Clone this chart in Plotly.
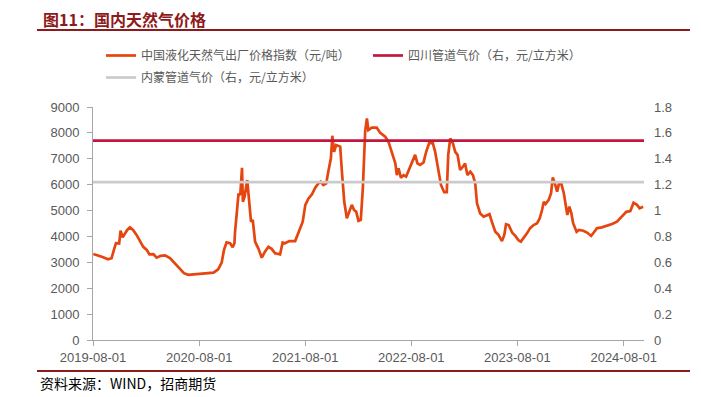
import plotly.graph_objects as go

# ---------------- data ----------------
lng_dates = [
    "2019-08-02", "2019-08-25", "2019-09-05", "2019-09-22", "2019-10-04", "2019-10-12", "2019-10-19",
    "2019-10-30", "2019-11-04", "2019-11-11", "2019-11-19", "2019-11-27", "2019-12-06", "2019-12-17",
    "2019-12-29", "2020-01-10", "2020-01-21", "2020-02-02", "2020-02-11", "2020-02-25", "2020-03-07",
    "2020-03-21", "2020-04-05", "2020-04-22", "2020-05-09", "2020-05-26", "2020-06-09", "2020-06-24",
    "2020-07-23", "2020-08-21", "2020-09-19", "2020-10-05", "2020-10-17", "2020-10-25", "2020-11-03",
    "2020-11-15", "2020-11-24", "2020-11-30", "2020-12-02", "2020-12-08", "2020-12-14", "2020-12-20",
    "2020-12-26", "2020-12-29", "2021-01-04", "2021-01-13", "2021-01-20", "2021-01-26", "2021-02-01",
    "2021-02-09", "2021-02-20", "2021-03-04", "2021-03-15", "2021-03-27", "2021-04-07", "2021-04-19",
    "2021-05-06", "2021-05-15", "2021-05-23", "2021-06-07", "2021-06-27", "2021-07-14", "2021-07-23",
    "2021-08-01", "2021-08-12", "2021-08-24", "2021-09-04", "2021-09-15", "2021-09-23", "2021-10-02",
    "2021-10-12", "2021-10-19", "2021-10-28", "2021-11-02", "2021-11-08", "2021-11-15", "2021-11-29",
    "2021-12-05", "2021-12-13", "2021-12-22", "2021-12-31", "2022-01-08", "2022-01-16", "2022-01-23",
    "2022-01-31", "2022-02-08", "2022-02-15", "2022-02-23", "2022-03-01", "2022-03-06", "2022-03-18",
    "2022-04-04", "2022-04-16", "2022-05-03", "2022-05-14", "2022-05-26", "2022-06-07", "2022-06-12",
    "2022-06-18", "2022-06-26", "2022-07-05", "2022-07-14", "2022-07-26", "2022-08-06", "2022-08-14",
    "2022-08-22", "2022-08-31", "2022-09-12", "2022-09-21", "2022-10-02", "2022-10-14", "2022-10-22",
    "2022-11-02", "2022-11-11", "2022-11-22", "2022-12-01", "2022-12-06", "2022-12-13", "2022-12-22",
    "2022-12-30", "2023-01-07", "2023-01-16", "2023-01-26", "2023-02-02", "2023-02-10", "2023-02-20",
    "2023-03-01", "2023-03-09", "2023-03-15", "2023-03-26", "2023-04-07", "2023-04-18", "2023-04-27",
    "2023-05-05", "2023-05-17", "2023-05-28", "2023-06-09", "2023-06-17", "2023-06-23", "2023-07-02",
    "2023-07-14", "2023-07-25", "2023-08-05", "2023-08-13", "2023-08-22", "2023-09-03", "2023-09-14",
    "2023-09-26", "2023-10-08", "2023-10-17", "2023-10-25", "2023-10-31", "2023-11-06", "2023-11-17",
    "2023-11-25", "2023-12-01", "2023-12-08", "2023-12-16", "2023-12-22", "2023-12-30", "2024-01-08",
    "2024-01-14", "2024-01-20", "2024-01-27", "2024-02-03", "2024-02-09", "2024-02-21", "2024-02-29",
    "2024-03-15", "2024-03-28", "2024-04-11", "2024-04-20", "2024-05-01", "2024-05-18", "2024-06-02",
    "2024-06-22", "2024-07-09", "2024-07-26", "2024-08-10", "2024-08-24", "2024-09-04", "2024-09-16",
    "2024-09-25", "2024-10-07",
]
lng_price = [
    3320, 3250, 3200, 3120, 3160, 3480, 3740,
    3730, 4220, 3970, 4120, 4250, 4350, 4250,
    4060, 3800, 3600, 3480, 3310, 3320, 3180,
    3250, 3270, 3160, 2960, 2730, 2580, 2520,
    2540, 2580, 2600, 2730, 2990, 3480, 3770,
    3740, 3580, 3740, 4180, 4900, 5650, 5600,
    6650, 5340, 5540, 6180, 5340, 4570, 4640,
    3800, 3540, 3180, 3410, 3600, 3520, 3350,
    3310, 3770, 3740, 3820, 3820, 4320, 4570,
    5220, 5470, 5630, 5880, 6050, 6120, 5990,
    6050, 6500, 7020, 7890, 7270, 7530, 7470,
    6500, 5340, 4700, 4960, 5220, 5020, 4960,
    4600, 4640, 5860, 8050, 8560, 8110, 8200,
    8200, 8000, 7850, 7660, 7270, 6820, 6370,
    6630, 6270, 6370, 6310, 6630, 6890, 7150,
    6820, 6760, 6860, 7270, 7630, 7600, 7270,
    6630, 5990, 5710, 5710, 7150, 7790, 7600,
    7270, 7150, 6570, 6700, 6820, 6370, 6500,
    6370, 6050, 5280, 4890, 4760, 4830, 4860,
    4570, 4180, 4060, 3820, 4060, 4470, 4440,
    4150, 4020, 3850, 3800, 3930, 4120, 4320,
    4440, 4510, 4700, 5020, 5340, 5250, 5410,
    5670, 6280, 6050, 5730, 6030, 6050, 5670,
    5150, 4830, 5150, 4890, 4510, 4180, 4250,
    4220, 4150, 4020, 4150, 4320, 4350, 4400,
    4480, 4570, 4790, 4950, 4980, 5300, 5220,
    5090, 5150,
]
sichuan_price = 1.54        # 元/立方米 (right axis)
neimenggu_price = 1.22      # 元/立方米 (right axis)

x_range = ["2019-08-01", "2024-10-10"]
x_tick_vals = ["2019-08-01", "2020-08-01", "2021-08-01", "2022-08-01", "2023-08-01", "2024-08-01"]
left_ticks = [0, 1000, 2000, 3000, 4000, 5000, 6000, 7000, 8000, 9000]
right_ticks = [0, 0.2, 0.4, 0.6, 0.8, 1.0, 1.2, 1.4, 1.6, 1.8]

names = ["中国液化天然气出厂价格指数（元/吨）", "四川管道气价（右，元/立方米）", "内蒙管道气价（右，元/立方米）"]
colors = ["#E5450F", "#C3163F", "#CBCBCB"]

title_text = "图11：国内天然气价格"
source_text = "资料来源：WIND，招商期货"

# ---------------- figure ----------------
W, H = 701, 397
ML, MR, MT, MB = 85, 65, 99, 65          # page body adds an 8px offset
PW, PH = W - ML - MR, H - MT - MB
PLOT_X0, PLOT_Y1 = ML + 8, MT + 8 + PH   # plot left / bottom in window pixels


def px(x):
    return (x - PLOT_X0) / PW


def py(y):
    return (PLOT_Y1 - y) / PH


fig = go.Figure()
fig.add_trace(go.Scatter(x=lng_dates, y=lng_price, mode="lines", name=names[0],
                         line=dict(color=colors[0], width=2.7), yaxis="y", legend="legend"))
fig.add_trace(go.Scatter(x=x_range, y=[sichuan_price, sichuan_price], mode="lines", name=names[1],
                         line=dict(color=colors[1], width=2.7), yaxis="y2", legend="legend"))
fig.add_trace(go.Scatter(x=x_range, y=[neimenggu_price, neimenggu_price], mode="lines", name=names[2],
                         line=dict(color=colors[2], width=2.7), yaxis="y2", legend="legend2"))

tick_font = dict(family="Liberation Sans, Arial", size=13, color="#595959")
legend_font = dict(family="Noto Sans CJK SC", size=12, color="#595959")

fig.update_layout(
    width=W, height=H,
    margin=dict(l=ML, r=MR, t=MT, b=MB),
    paper_bgcolor="white", plot_bgcolor="white",
    showlegend=True,
    legend=dict(orientation="h", x=px(101), xanchor="left", y=py(41), yanchor="top",
                entrywidth=222, entrywidthmode="pixels", font=legend_font,
                bgcolor="rgba(0,0,0,0)", itemwidth=30),
    legend2=dict(orientation="h", x=px(101), xanchor="left", y=py(63), yanchor="top",
                 font=legend_font, bgcolor="rgba(0,0,0,0)", itemwidth=30),
    xaxis=dict(type="date", range=x_range, tickvals=x_tick_vals, ticktext=x_tick_vals,
               showgrid=False, zeroline=False, showline=True, linecolor="#A6A6A6", linewidth=1,
               ticks="outside", ticklen=5, tickcolor="#A6A6A6", tickfont=tick_font),
    yaxis=dict(range=[0, 9000], tickvals=left_ticks, showgrid=False, zeroline=False,
               showline=True, linecolor="#A6A6A6", linewidth=1, ticks="outside", ticklen=5,
               tickcolor="#A6A6A6", tickfont=tick_font, ticklabelstandoff=5),
    yaxis2=dict(range=[0, 1.8], tickvals=right_ticks, overlaying="y", side="right",
                showgrid=False, zeroline=False, showline=False, ticks="",
                tickfont=tick_font, ticklabelstandoff=9),
)

# header / footer
fig.add_annotation(text=f"<b>{title_text}</b>", xref="paper", yref="paper", x=px(41), y=py(19),
                   xanchor="left", yanchor="middle", showarrow=False,
                   font=dict(family="Noto Sans CJK SC", size=16, color="#8E1B1B"))
fig.add_shape(type="line", xref="paper", yref="paper", x0=px(37), x1=px(690), y0=py(30), y1=py(30),
              line=dict(color="#8E1B1B", width=2.2))
fig.add_shape(type="line", xref="paper", yref="paper", x0=px(37), x1=px(690), y0=py(371), y1=py(371),
              line=dict(color="#8E1B1B", width=2))
fig.add_annotation(text=source_text, xref="paper", yref="paper", x=px(38), y=py(383),
                   xanchor="left", yanchor="middle", showarrow=False,
                   font=dict(family="Noto Sans CJK SC", size=14, color="#000000"))

fig.write_html("out.html")
